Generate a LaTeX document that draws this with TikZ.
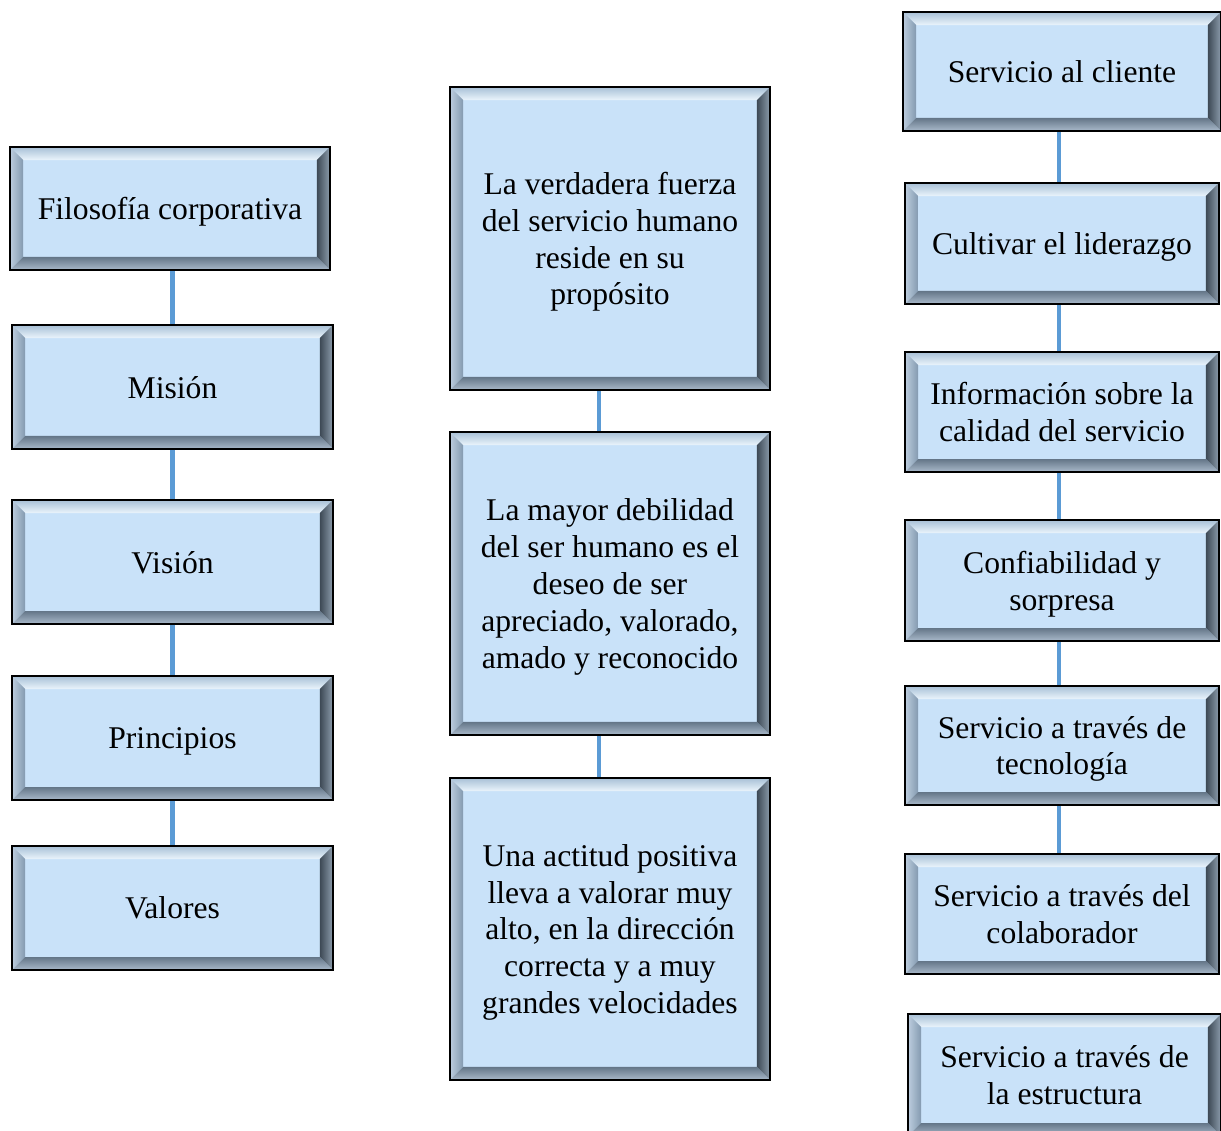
\documentclass[tikz,border=0pt]{standalone}
\usepackage{fontspec}
\setmainfont{Liberation Serif}
\usepackage{xcolor}
\usepackage{tikz}

\definecolor{boxfill}{HTML}{C9E2F9}
\definecolor{linkblue}{HTML}{5B9BD5}

\tikzset{
  bevel/.style={draw=black, line width=1.1pt, fill=boxfill, align=center,
    inner sep=0pt, text depth=0pt, font=\fontsize{18}{21}\selectfont,
    path picture={
      \coordinate (nw) at (path picture bounding box.north west);
      \coordinate (ne) at (path picture bounding box.north east);
      \coordinate (sw) at (path picture bounding box.south west);
      \coordinate (se) at (path picture bounding box.south east);
      % top, left, right and bottom faces of the frame
      \shade[top color={rgb,255:red,168;green,192;blue,214}, bottom color={rgb,255:red,234;green,244;blue,252}]
        (nw) -- (ne) -- ([xshift=-0.26cm,yshift=-0.26cm]ne) -- ([xshift=0.26cm,yshift=-0.26cm]nw) -- cycle;
      \shade[left color={rgb,255:red,188;green,205;blue,222}, right color={rgb,255:red,132;green,154;blue,176}]
        (nw) -- ([xshift=0.26cm,yshift=-0.26cm]nw) -- ([xshift=0.26cm,yshift=0.26cm]sw) -- (sw) -- cycle;
      \shade[left color={rgb,255:red,62;green,74;blue,86}, right color={rgb,255:red,140;green,156;blue,172}]
        (ne) -- ([xshift=-0.26cm,yshift=-0.26cm]ne) -- ([xshift=-0.26cm,yshift=0.26cm]se) -- (se) -- cycle;
      \shade[top color={rgb,255:red,100;green,118;blue,136}, bottom color={rgb,255:red,170;green,186;blue,203}]
        (sw) -- ([xshift=0.26cm,yshift=0.26cm]sw) -- ([xshift=-0.26cm,yshift=0.26cm]se) -- (se) -- cycle;
    }},
  link/.style={draw=linkblue, line width=2.8pt}
}

\begin{document}
\begin{tikzpicture}[x=0.02cm,y=-0.02cm]
\useasboundingbox (0,0) rectangle (1221,1130);

% left column
\node[bevel, minimum width=6.4cm, minimum height=2.46cm] (filo) at (170,208.5) {Filosofía corporativa};
\node[bevel, minimum width=6.42cm, minimum height=2.48cm] (mision) at (172.5,387) {Misión};
\node[bevel, minimum width=6.42cm, minimum height=2.48cm] (vision) at (172.5,562) {Visión};
\node[bevel, minimum width=6.42cm, minimum height=2.48cm] (princ) at (172.5,738) {Principios};
\node[bevel, minimum width=6.42cm, minimum height=2.48cm] (valores) at (172.5,908) {Valores};

% middle column
\node[bevel, minimum width=6.4cm, minimum height=6.06cm] (m1) at (610,238.5)
  {La verdadera fuerza\\del servicio humano\\reside en su\\propósito};
\node[bevel, minimum width=6.4cm, minimum height=6.06cm] (m2) at (610,583.5)
  {La mayor debilidad\\del ser humano es el\\deseo de ser\\apreciado, valorado,\\amado y reconocido};
\node[bevel, minimum width=6.4cm, minimum height=6.04cm] (m3) at (610,929)
  {Una actitud positiva\\lleva a valorar muy\\alto, en la dirección\\correcta y a muy\\grandes velocidades};

% right column
\node[bevel, minimum width=6.36cm, minimum height=2.38cm] (r1) at (1062,71.5) {Servicio al cliente};
\node[bevel, minimum width=6.28cm, minimum height=2.42cm] (r2) at (1062,243.5) {Cultivar el liderazgo};
\node[bevel, minimum width=6.28cm, minimum height=2.4cm] (r3) at (1062,412) {Información sobre la\\calidad del servicio};
\node[bevel, minimum width=6.28cm, minimum height=2.42cm] (r4) at (1062,580.5) {Confiabilidad y\\sorpresa};
\node[bevel, minimum width=6.28cm, minimum height=2.38cm] (r5) at (1062,745.5) {Servicio a través de\\tecnología};
\node[bevel, minimum width=6.28cm, minimum height=2.4cm] (r6) at (1062,914) {Servicio a través del\\colaborador};
\node[bevel, minimum width=6.26cm, minimum height=2.44cm] (r7) at (1064.5,1075) {Servicio a través de\\la estructura};

% connectors
\draw[link] (mision.north) -- (mision.north |- filo.south);
\draw[link] (mision) -- (vision);
\draw[link] (vision) -- (princ);
\draw[link] (princ) -- (valores);

\draw[link] ([xshift=-0.22cm]m1.south) -- ([xshift=-0.22cm]m2.north);
\draw[link] ([xshift=-0.22cm]m2.south) -- ([xshift=-0.22cm]m3.north);

\draw[link] ([xshift=-0.06cm]r1.south) -- ([xshift=-0.06cm]r2.north);
\draw[link] ([xshift=-0.06cm]r2.south) -- ([xshift=-0.06cm]r3.north);
\draw[link] ([xshift=-0.06cm]r3.south) -- ([xshift=-0.06cm]r4.north);
\draw[link] ([xshift=-0.06cm]r4.south) -- ([xshift=-0.06cm]r5.north);
\draw[link] ([xshift=-0.06cm]r5.south) -- ([xshift=-0.06cm]r6.north);

\end{tikzpicture}
\end{document}
